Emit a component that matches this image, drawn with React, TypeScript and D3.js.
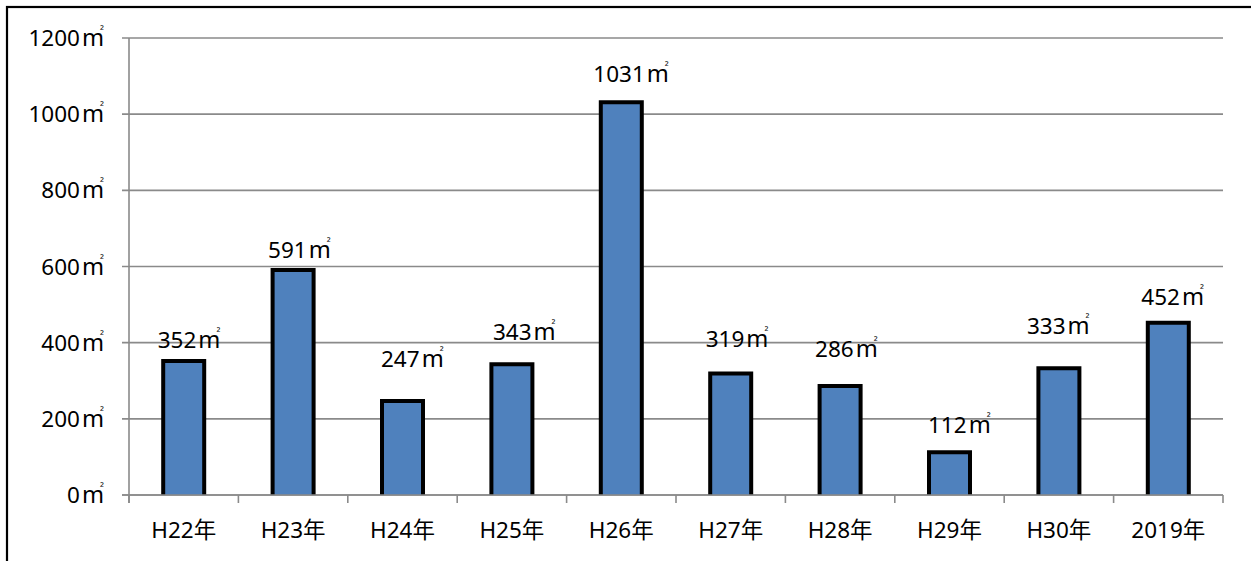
import React from "react";
import * as d3 from "d3";

const categories = ["H22年", "H23年", "H24年", "H25年", "H26年", "H27年", "H28年", "H29年", "H30年", "2019年"];
const values = [352, 591, 247, 343, 1031, 319, 286, 112, 333, 452];
const yTicks = [0, 200, 400, 600, 800, 1000, 1200];
const unit = "m";
const sup = "²";
// label nudges (from band centre to label start, and digit centre relative to bar top)
const labelDx = [-26, -25, -21.5, -19, -28, -25, -25, -21.5, -32, -27];
const labelDy = [-20.5, -20, -41.5, -32, -28, -34.5, -37, -27, -42, -25.5];

const W = 1251;
const H = 561;
const FONT = "'Noto Sans', 'Noto Sans CJK JP', sans-serif";
const FS = 22.5;

function Unit({ fs }: { fs: number }) {
  return (
    <>
      <tspan dx={2} fontSize={fs * 1.05}>{unit}</tspan>
      <tspan dx={-4} dy={-11} fontSize={fs * 0.5}>{sup}</tspan>
    </>
  );
}

export default function App() {
  const x = d3.scaleBand<string>().domain(categories).range([129, 1223]).paddingInner(0).paddingOuter(0);
  const y = d3.scaleLinear().domain([0, 1200]).range([495, 38]);
  const bw = 41;
  const grid = "#8a8a8a";

  return (
    <svg width={W} height={H} style={{ position: "absolute", left: 0, top: 0, background: "#fff" }} fontFamily={FONT}>
      <rect x={7} y={7} width={W + 20} height={H + 20} fill="#fff" stroke="#000" strokeWidth={2.2} />
      {yTicks.map((t) => (
        <line key={"g" + t} x1={122} x2={1223} y1={y(t)} y2={y(t)} stroke={grid} strokeWidth={1.6} />
      ))}
      {values.map((v, i) => {
        const cx = (x(categories[i]) as number) + x.bandwidth() / 2;
        const x0 = cx - bw / 2;
        const top = y(v);
        return (
          <g key={"b" + i}>
            <rect x={x0} y={top} width={bw} height={y(0) - top} fill="#4F81BD" />
            <path d={`M${x0},${y(0)}V${top}H${x0 + bw}V${y(0)}`} fill="none" stroke="#000" strokeWidth={4} />
          </g>
        );
      })}
      <line x1={129} x2={129} y1={y(1200)} y2={y(0) + 8} stroke={grid} strokeWidth={1.6} />
      <line x1={122} x2={1223} y1={y(0)} y2={y(0)} stroke={grid} strokeWidth={1.6} />
      {d3.range(categories.length + 1).map((i) => {
        const xx = 129 + i * x.bandwidth();
        return <line key={"t" + i} x1={xx} x2={xx} y1={y(0)} y2={y(0) + 8} stroke={grid} strokeWidth={1.6} />;
      })}
      {yTicks.map((t) => (
        <text key={"yl" + t} x={104} y={y(t) + 8} textAnchor="end" fontSize={FS} fill="#000">
          {t}
          <Unit fs={FS} />
        </text>
      ))}
      {categories.map((c) => (
        <text key={"xl" + c} x={(x(c) as number) + x.bandwidth() / 2} y={538} textAnchor="middle" fontSize={FS} fill="#000">
          {c}
        </text>
      ))}
      {values.map((v, i) => {
        const cx = (x(categories[i]) as number) + x.bandwidth() / 2;
        return (
          <text key={"vl" + i} x={cx + labelDx[i]} y={y(v) + labelDy[i] + 8} fontSize={FS} fill="#000">
            {v}
            <Unit fs={FS} />
          </text>
        );
      })}
    </svg>
  );
}
